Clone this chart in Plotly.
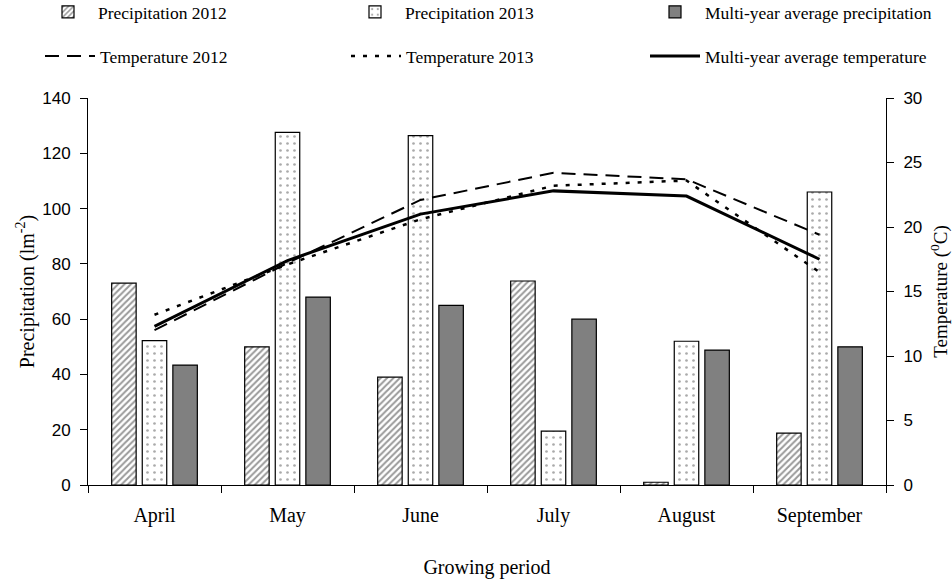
import plotly.graph_objects as go

months = ["April", "May", "June", "July", "August", "September"]
precip_2012 = [73, 50, 39, 73.8, 1, 18.8]
precip_2013 = [52.2, 127.6, 126.4, 19.5, 52, 106]
precip_avg = [43.4, 68, 65, 60, 48.8, 50]
temp_2012 = [12.0, 17.2, 22.1, 24.2, 23.7, 19.4]
temp_2013 = [13.2, 17.1, 20.6, 23.2, 23.6, 16.5]
temp_avg = [12.3, 17.4, 21.0, 22.8, 22.4, 17.5]

serif = "Liberation Serif"
sans = "Liberation Sans"
W, H = 952, 580

fig = go.Figure()
fig.add_trace(go.Bar(
    x=months, y=precip_2012, name="Precipitation 2012", legend="legend",
    marker=dict(color="white", line=dict(color="black", width=1.2),
                pattern=dict(shape="/", fgcolor="#333333", bgcolor="white", size=4.5, solidity=0.45)),
))
fig.add_trace(go.Bar(
    x=months, y=precip_2013, name="Precipitation 2013", legend="legend2",
    marker=dict(color="white", line=dict(color="black", width=1.2),
                pattern=dict(shape=".", fgcolor="#555555", bgcolor="white", size=7, solidity=0.12)),
))
fig.add_trace(go.Bar(
    x=months, y=precip_avg, name="Multi-year average precipitation", legend="legend3",
    marker=dict(color="#808080", line=dict(color="black", width=1.2)),
))
fig.add_trace(go.Scatter(
    x=months, y=temp_2012, name="Temperature 2012", yaxis="y2", mode="lines", legend="legend4",
    line=dict(color="black", width=2, dash="14px,8px"),
))
fig.add_trace(go.Scatter(
    x=months, y=temp_2013, name="Temperature 2013", yaxis="y2", mode="lines", legend="legend5",
    line=dict(color="black", width=2.5, dash="4px,8px"),
))
fig.add_trace(go.Scatter(
    x=months, y=temp_avg, name="Multi-year average temperature", yaxis="y2", mode="lines", legend="legend6",
    line=dict(color="black", width=3),
))

def leg(xpx, ypx):
    return dict(
        orientation="h", xref="container", yref="container", xanchor="left", yanchor="middle",
        x=xpx / W, y=1 - ypx / H,
        font=dict(family=serif, size=17.5, color="black"),
        bgcolor="rgba(0,0,0,0)", itemwidth=50,
    )

fig.update_layout(
    width=W, height=H,
    margin=dict(l=88, r=66, t=98, b=95, autoexpand=False),
    plot_bgcolor="white", paper_bgcolor="white",
    showlegend=True,
    barmode="group", bargap=0.31, bargroupgap=0.2,
    legend=leg(38, 12), legend2=leg(345, 12), legend3=leg(645, 12),
    legend4=leg(40, 56), legend5=leg(346, 56), legend6=leg(645, 56),
    xaxis=dict(
        showline=True, linecolor="black", linewidth=1, ticks="outside", ticklen=7,
        tickcolor="black", tickson="boundaries", automargin=False, ticklabelstandoff=12,
        tickfont=dict(family=serif, size=20, color="black"),
        title=dict(text="Growing period", font=dict(family=serif, size=20, color="black"), standoff=33),
    ),
    yaxis=dict(
        range=[0, 140], dtick=20, showgrid=False, zeroline=False, automargin=False,
        showline=True, linecolor="black", linewidth=1, ticks="outside", ticklen=7, tickcolor="black",
        ticklabelstandoff=6,
        tickfont=dict(family=sans, size=17, color="black"),
        title=dict(text="Precipitation (lm<sup>-2</sup>)", font=dict(family=serif, size=20, color="black"), standoff=2),
    ),
    yaxis2=dict(
        range=[0, 30], dtick=5, overlaying="y", side="right", showgrid=False, zeroline=False,
        automargin=False,
        showline=True, linecolor="black", linewidth=1, ticks="outside", ticklen=7, tickcolor="black",
        ticklabelstandoff=6,
        tickfont=dict(family=sans, size=17, color="black"),
        title=dict(text="Temperature (<sup>0</sup>C)", font=dict(family=serif, size=19, color="black"), standoff=14),
    ),
)

fig.write_html("out.html", config={"displayModeBar": False},
               post_script="document.body.style.margin='0';")
